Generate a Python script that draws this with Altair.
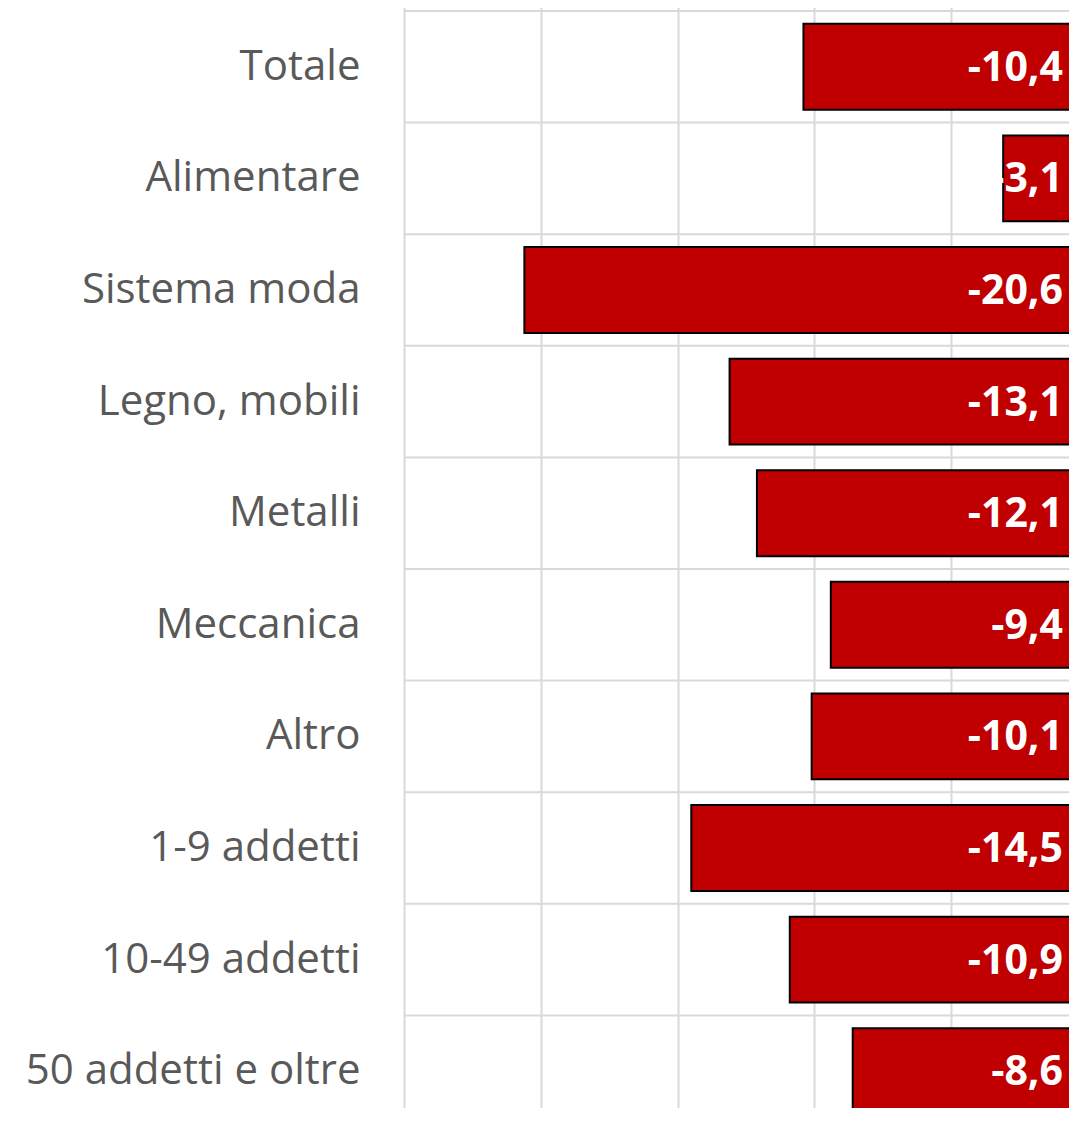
import altair as alt
import pandas as pd

categories = ["Totale", "Alimentare", "Sistema moda", "Legno, mobili", "Metalli",
              "Meccanica", "Altro", "1-9 addetti", "10-49 addetti", "50 addetti e oltre"]
values = [-10.4, -3.1, -20.6, -13.1, -12.1, -9.4, -10.1, -14.5, -10.9, -8.6]
labels = [f"{v:.1f}".replace(".", ",") for v in values]

df = pd.DataFrame({"cat": categories, "val": values, "lab": labels})

STEP = 111.6
FULL_W = 684
FULL_H = 1116
x_scale = alt.Scale(domain=[-25, 0], range=[0, FULL_W], nice=False, zero=False, round=False)
y_scale = alt.Scale(range=[0, FULL_H], paddingInner=0.23, paddingOuter=0.115, round=False)

y_axis = alt.Axis(labelFont="Open Sans", labelFontSize=42, labelColor="#595959",
                  labelPadding=44, labelLimit=500, ticks=False, domain=False, grid=False)

hgrid = alt.Chart(df).mark_rule(color="#d9d9d9", strokeWidth=2, yOffset=-STEP / 2).encode(
    y=alt.Y("cat:N", sort=categories, scale=y_scale, title=None, axis=y_axis),
    x=alt.value(0),
    x2=alt.value(FULL_W),
)

bars = alt.Chart(df).mark_bar(color="#C00000", stroke="black", strokeWidth=2).encode(
    x=alt.X("val:Q", scale=x_scale, title=None,
            axis=alt.Axis(values=[-25, -20, -15, -10, -5, 0], labels=False, ticks=False,
                          domain=False, grid=True, gridColor="#d9d9d9", gridWidth=2)),
    y=alt.Y("cat:N", sort=categories),
)

text = alt.Chart(df).mark_text(align="right", baseline="middle", dx=-25, dy=2,
                               font="Open Sans", fontSize=41, fontWeight="bold",
                               color="white").encode(
    x=alt.datum(0),
    y=alt.Y("cat:N", sort=categories),
    text="lab:N",
)

chart = alt.layer(hgrid, bars, text).properties(
    width=665, height=1097,
    autosize=alt.AutoSizeParams(type="none"),
    padding={"left": 396, "top": 3, "right": 0, "bottom": 0},
).configure_view(stroke=None)

chart.save("out.html", embed_options={"renderer": "svg", "actions": False})
